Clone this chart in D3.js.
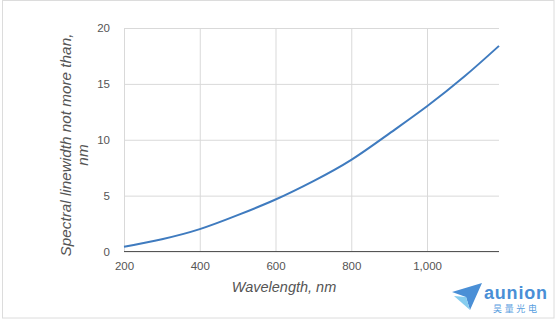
<!DOCTYPE html>
<html>
<head>
<meta charset="utf-8">
<script src="https://cdn.jsdelivr.net/npm/d3@7"></script>
<style>
  html, body { margin: 0; padding: 0; background: #fff; }
  svg { display: block; font-family: "Liberation Sans", Arial, sans-serif; }
</style>
</head>
<body>
<svg id="chart" width="560" height="322"></svg>
<script>
// Spectral linewidth versus wavelength
const wavelengths = [200, 300, 400, 500, 600, 700, 800, 900, 1000, 1100, 1190];
const linewidths  = [0.42, 1.1, 2.0, 3.25, 4.65, 6.3, 8.2, 10.55, 13.0, 15.7, 18.4];
const xTicks = [200, 400, 600, 800, 1000];
const yTicks = [0, 5, 10, 15, 20];
const xTitle = "Wavelength, nm";
const yTitleLines = ["Spectral linewidth not more than,", "nm"];

const svg = d3.select("#chart");
const plot = { left: 124, right: 499, top: 28, bottom: 251.5 };

const x = d3.scaleLinear().domain([200, 1190]).range([plot.left, plot.right]);
const y = d3.scaleLinear().domain([0, 20]).range([plot.bottom, plot.top]);

// outer frame
svg.append("rect")
  .attr("x", 2.5).attr("y", 0.5).attr("width", 551.5).attr("height", 317.5)
  .attr("fill", "none").attr("stroke", "#dcdcdc").attr("stroke-width", 1);

// horizontal gridlines + y labels
const yAxis = d3.axisLeft(y).tickValues(yTicks).tickSize(-(plot.right - plot.left)).tickPadding(14)
  .tickFormat(d3.format(","));
const gy = svg.append("g").attr("transform", `translate(${plot.left},0)`).call(yAxis);
gy.select(".domain").remove();
gy.selectAll(".tick line").attr("stroke", "#d9d9d9").attr("stroke-width", 1);
gy.selectAll(".tick text").attr("fill", "#555").attr("font-size", 11.5)
  .attr("font-family", "Liberation Sans, Arial, sans-serif");

// vertical gridlines + x labels
const xAxis = d3.axisBottom(x).tickValues(xTicks).tickSize(-(plot.bottom - plot.top)).tickPadding(10)
  .tickFormat(d3.format(","));
const gx = svg.append("g").attr("transform", `translate(0,${plot.bottom})`).call(xAxis);
gx.select(".domain").remove();
gx.selectAll(".tick line").attr("stroke", "#d9d9d9").attr("stroke-width", 1);
gx.selectAll(".tick text").attr("fill", "#555").attr("font-size", 11.5)
  .attr("font-family", "Liberation Sans, Arial, sans-serif");

// baseline
svg.append("line")
  .attr("x1", plot.left).attr("x2", plot.right).attr("y1", y(0)).attr("y2", y(0))
  .attr("stroke", "#555").attr("stroke-width", 1.2);

// curve
const pts = wavelengths.map((w, i) => [w, linewidths[i]]);
svg.append("path")
  .datum(pts)
  .attr("fill", "none")
  .attr("stroke", "#3f7bbf")
  .attr("stroke-width", 2)
  .attr("d", d3.line().x(d => x(d[0])).y(d => y(d[1])).curve(d3.curveNatural));

// axis titles
svg.append("text")
  .attr("x", 284).attr("y", 292)
  .attr("text-anchor", "middle")
  .attr("font-style", "italic").attr("font-size", 14.5).attr("fill", "#555")
  .text(xTitle);

const yt = svg.append("g");
yt.append("text")
  .attr("transform", "translate(71,145) rotate(-90)")
  .attr("text-anchor", "middle")
  .attr("font-style", "italic").attr("font-size", 15.3).attr("fill", "#555")
  .text(yTitleLines[0]);
yt.append("text")
  .attr("transform", "translate(88,155) rotate(-90)")
  .attr("text-anchor", "middle")
  .attr("font-style", "italic").attr("font-size", 15.3).attr("fill", "#555")
  .text(yTitleLines[1]);

// brand mark
const logo = svg.append("g");
logo.append("polygon")
  .attr("points", "452,292 482,283 470,310 466,297")
  .attr("fill", "#4a8fd6");
logo.append("polygon")
  .attr("points", "454,296 466,297 470,310")
  .attr("fill", "#86cdef");
logo.append("text")
  .attr("x", 484).attr("y", 299)
  .attr("font-size", 18).attr("font-weight", "bold").attr("fill", "#4a8fd6")
  .attr("textLength", 63)
  .text("aunion");
logo.append("text")
  .attr("x", 493).attr("y", 312)
  .attr("font-size", 9).attr("fill", "#5aa0e0")
  .attr("font-family", "Noto Sans CJK SC, sans-serif")
  .attr("textLength", 44)
  .text("昊量光电");
</script>
</body>
</html>
